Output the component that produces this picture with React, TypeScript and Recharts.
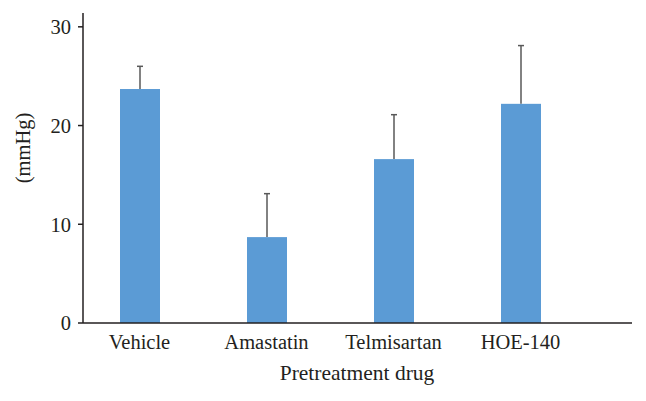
import { Bar, BarChart, XAxis, YAxis } from "recharts";

const drugs = ["Vehicle", "Amastatin", "Telmisartan", "HOE-140"];
const pressure = [23.7, 8.7, 16.6, 22.2];
const upperError = [2.3, 4.4, 4.5, 5.9];
const yTicks = [0, 10, 20, 30];

const data = drugs.map((drug, i) => ({
  drug,
  value: pressure[i],
  up: upperError[i],
}));

const FONT = "'Liberation Serif', 'Times New Roman', serif";
const INK = "#231f20";

// bar + one-sided error whisker (no cap at the bar top)
function BarWithError(props: any) {
  const { x, y, width, height, payload, fill } = props;
  const perUnit = height / payload.value;
  const top = y - payload.up * perUnit;
  const cx = x + width / 2;
  return (
    <g>
      <rect fill={fill} height={height} width={width} x={x} y={y} />
      <line stroke="#595959" strokeWidth={1.5} x1={cx} x2={cx} y1={y} y2={top} />
      <line stroke="#595959" strokeWidth={1.5} x1={cx - 3} x2={cx + 3} y1={top} y2={top} />
    </g>
  );
}

export default function App() {
  return (
    <div style={{ position: "absolute", left: 0, top: 0, background: "#fff" }}>
      <BarChart
        data={data}
        height={401}
        margin={{ bottom: 0, left: 3, right: 14, top: 13 }}
        width={646}
      >
        <XAxis
          axisLine={{ stroke: INK, strokeWidth: 1.5 }}
          dataKey="drug"
          height={78}
          padding={{ left: -7, right: 48 }}
          tick={{ fill: INK, fontFamily: FONT, fontSize: 20.5 }}
          tickLine={false}
          tickMargin={11}
          tickSize={0}
          label={{
            content: () => (
              <text
                fill={INK}
                fontFamily={FONT}
                fontSize={21.5}
                textAnchor="middle"
                x={357}
                y={380}
              >
                Pretreatment drug
              </text>
            ),
          }}
        />
        <YAxis
          axisLine={{ stroke: INK, strokeWidth: 1.5 }}
          domain={[0, 31.4]}
          tick={{ fill: INK, fontFamily: FONT, fontSize: 20.5 }}
          tickLine={{ stroke: INK, strokeWidth: 1.5 }}
          tickMargin={7}
          tickSize={5}
          ticks={yTicks}
          width={80}
          label={{
            content: () => (
              <text
                fill={INK}
                fontFamily={FONT}
                fontSize={20.5}
                textAnchor="middle"
                transform="rotate(-90 30 148)"
                x={30}
                y={148}
              >
                (mmHg)
              </text>
            ),
          }}
        />
        <Bar
          barSize={40}
          dataKey="value"
          fill="#5b9bd5"
          isAnimationActive={false}
          shape={BarWithError}
        />
      </BarChart>
    </div>
  );
}
